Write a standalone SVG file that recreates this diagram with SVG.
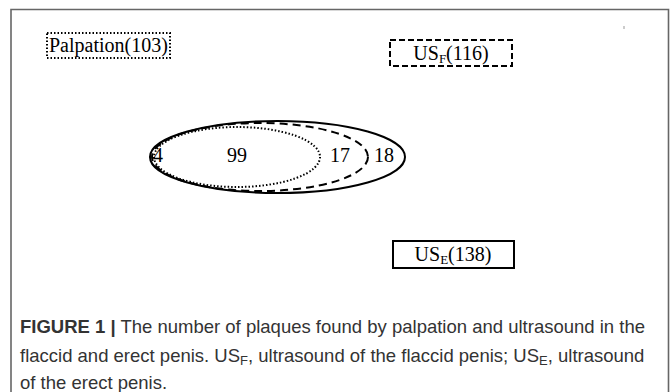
<svg xmlns="http://www.w3.org/2000/svg" width="670" height="392" viewBox="0 0 670 392">
<style>
.t{font-family:"Liberation Serif","Times New Roman",serif;font-size:20px;fill:#000}
.sub{font-size:13px}
.cap{font-family:"Liberation Sans",Arial,sans-serif;font-size:18.5px;fill:#333}
.b{font-weight:bold}
.ln{fill:none;stroke:#000}
</style>
<rect x="0" y="0" width="670" height="392" fill="#fff"/>
<path d="M11 400 V9.5 H668.5 V400" fill="none" stroke="#666" stroke-width="1.6"/>
<rect x="623.5" y="26" width="1" height="3" fill="#999"/>
<g id="sets">
<ellipse class="ln" cx="277.5" cy="157" rx="127.5" ry="36" stroke-width="2"/>
<ellipse class="ln" cx="260" cy="157" rx="108" ry="34" stroke-width="2" stroke-dasharray="8,5"/>
<ellipse class="ln" cx="237" cy="157" rx="83" ry="30" stroke-width="2" stroke-dasharray="1.5,2"/>
</g>
<g id="counts">
<text class="t" x="158" y="162" text-anchor="middle">4</text>
<text class="t" x="237" y="162" text-anchor="middle">99</text>
<text class="t" x="340" y="162" text-anchor="middle">17</text>
<text class="t" x="384" y="162" text-anchor="middle">18</text>
</g>
<g id="palpation">
<rect x="47" y="33" width="123" height="25" fill="none" stroke="#000" stroke-width="2" stroke-dasharray="1.5,2"/>
<text class="t" x="49" y="52">Palpation(103)</text>
</g>
<g id="usf">
<rect x="390" y="40" width="122" height="26" fill="none" stroke="#000" stroke-width="2" stroke-dasharray="6,3"/>
<text class="t" x="451" y="60" text-anchor="middle">US<tspan class="sub" dy="3">F</tspan><tspan dy="-3">(116)</tspan></text>
</g>
<g id="use">
<rect x="393" y="241" width="121" height="27" fill="none" stroke="#000" stroke-width="2"/>
<text class="t" x="453" y="261" text-anchor="middle">US<tspan class="sub" dy="3">E</tspan><tspan dy="-3">(138)</tspan></text>
</g>
<g id="caption">
<text class="cap" x="20" y="333"><tspan class="b">FIGURE 1 |</tspan> The number of plaques found by palpation and ultrasound in the</text>
<text class="cap" x="20" y="362">flaccid and erect penis. US<tspan font-size="13" dy="3">F</tspan><tspan dy="-3">, ultrasound of the flaccid penis; US</tspan><tspan font-size="13" dy="3">E</tspan><tspan dy="-3">, ultrasound</tspan></text>
<text class="cap" x="20" y="389">of the erect penis.</text>
</g>
</svg>
